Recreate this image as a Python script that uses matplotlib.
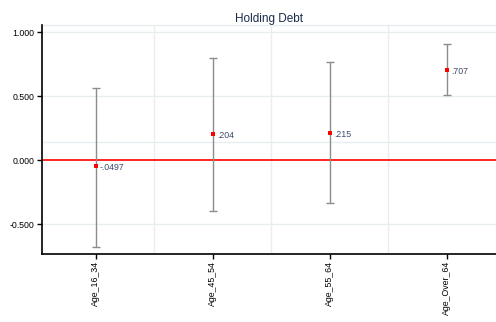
import matplotlib
matplotlib.use("Agg")
import matplotlib.pyplot as plt
import numpy as np

plt.rcParams['font.family'] = ['Liberation Sans', 'DejaVu Sans']

categories = ["Age_16_34", "Age_45_54", "Age_55_64", "Age_Over_64"]
estimates = [-0.0497, 0.204, 0.215, 0.707]
upper = [0.5625, 0.80, 0.766, 0.906]
lower = [-0.68, -0.40, -0.336, 0.51]
labels = ["-.0497", ".204", ".215", ".707"]
yticks = [1.0, 0.5, 0.0, -0.5]

fig = plt.figure(figsize=(4.96, 3.22), dpi=100)
ax = fig.add_axes([0.084, 0.211, 0.916, 0.711])

x = np.arange(len(categories))
est = np.array(estimates)
err = [est - np.array(lower), np.array(upper) - est]

# grid
for gy in [1.0, 0.5, 0.14, -0.5]:
    ax.axhline(gy, color="#e8eef0", lw=1, zorder=0)
ax.axhline(1.055, color="#e8eef0", lw=1, zorder=0, clip_on=False)
for gx in [0.5, 1.5, 2.5]:
    ax.axvline(gx, color="#ececec", lw=1, zorder=0)

ax.axhline(0, color="red", lw=1.2, zorder=1)
ax.errorbar(x, est, yerr=err, fmt="none", ecolor="#8c8c8c", elinewidth=1.0,
            capsize=2.8, capthick=1.0, zorder=2)
ax.scatter(x, est, marker="s", s=12, color="red", zorder=3, linewidths=0)
for xi, yi, lab in zip(x, est, labels):
    ax.annotate(lab, (xi, yi), xytext=(3, -1), textcoords="offset points",
                fontsize=6.3, color="#3a4a6a", va="center", ha="left")

ax.set_xlim(-0.464, 3.42)
ax.set_ylim(-0.734, 1.055)
ax.set_xticks(x)
ax.set_xticklabels(categories, rotation=90, fontsize=6.3)
ax.set_yticks(yticks)
ax.set_yticklabels(["%.3f" % v for v in yticks], fontsize=6.3)
ax.tick_params(direction="out", length=3.5, width=1, color="black", pad=1.5)
ax.spines["top"].set_visible(False)
ax.spines["right"].set_visible(False)
ax.spines["left"].set_linewidth(1.2)
ax.spines["bottom"].set_linewidth(1.2)
ax.set_title("Holding Debt", fontsize=8.5, color="#1a2a4a", pad=2)

fig.savefig("out.png", dpi=100)
